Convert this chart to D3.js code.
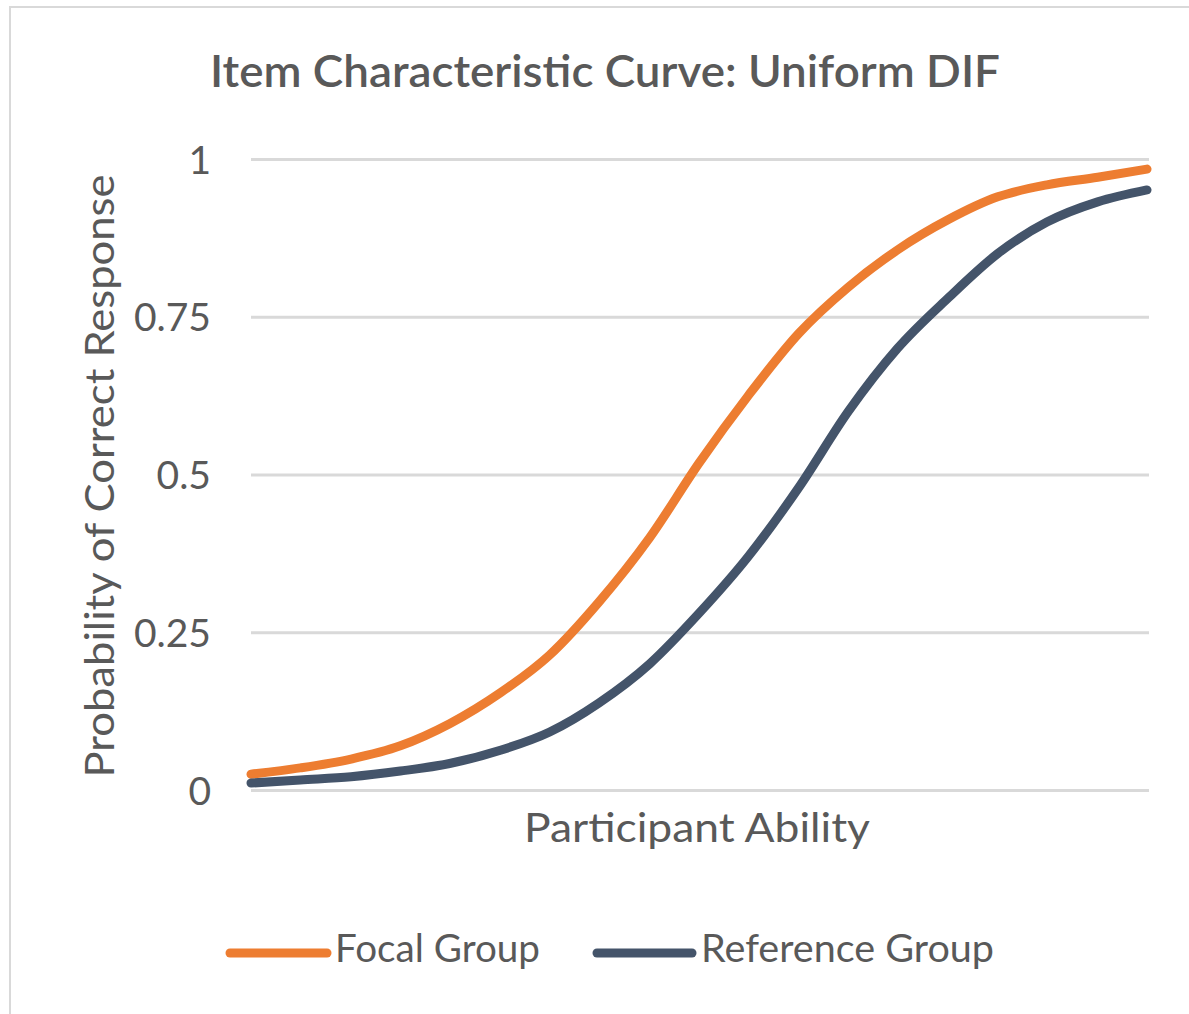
<!DOCTYPE html>
<html lang="en">
<head>
    <meta charset="UTF-8">
    <title>Item Characteristic Curve: Uniform DIF</title>
    <script src="https://cdn.jsdelivr.net/npm/d3@7"></script>
    <style>
        body { margin: 0; background: #fff; }
        text { font-family: Lato, "Open Sans", sans-serif; fill: #595959; }
    </style>
</head>
<body>
<script>
    // ability points (x, no labels shown on the axis)
    var ability = [-3, -2.67, -2.33, -2, -1.67, -1.33, -1, -0.67, -0.33, 0,
                   0.33, 0.67, 1, 1.33, 1.67, 2, 2.33, 2.67, 3];
    // probability of correct response
    var focal = [0.025, 0.035, 0.049, 0.070, 0.105, 0.154, 0.214, 0.298, 0.40, 0.518,
                 0.625, 0.724, 0.797, 0.856, 0.904, 0.94, 0.959, 0.971, 0.984];
    var reference = [0.011, 0.016, 0.021, 0.030, 0.042, 0.063, 0.092, 0.138, 0.20, 0.28,
                     0.37, 0.48, 0.60, 0.70, 0.78, 0.85, 0.90, 0.932, 0.951];
    var yTicks = [0, 0.25, 0.5, 0.75, 1];
    var seriesNames = ["Focal Group", "Reference Group"];
    var seriesColors = ["#ED7D31", "#44546A"];

    var W = 1189, H = 1014;
    var svg = d3.select("body").append("svg")
        .attr("width", W)
        .attr("height", H);

    // chart frame
    svg.append("rect")
        .attr("x", 10).attr("y", 7)
        .attr("width", W + 20).attr("height", H + 20)
        .attr("fill", "#fff")
        .attr("stroke", "#d9d9d9")
        .attr("stroke-width", 2);

    var plot = {left: 251, right: 1149, top: 159, bottom: 790};

    var x = d3.scaleLinear()
        .domain([ability[0], ability[ability.length - 1]])
        .range([plot.left, 1147]);
    var y = d3.scaleLinear()
        .domain([0, 1])
        .range([plot.bottom, plot.top]);

    // gridlines + y labels
    var axisY = d3.axisLeft(y)
        .tickValues(yTicks)
        .tickSize(-(plot.right - plot.left))
        .tickPadding(40)
        .tickFormat(d3.format(""));
    var gy = svg.append("g")
        .attr("transform", "translate(" + plot.left + ",0)")
        .call(axisY);
    gy.select(".domain").remove();
    gy.selectAll(".tick line").attr("stroke", "#d9d9d9").attr("stroke-width", 3);
    gy.selectAll(".tick text")
        .attr("font-size", "39px")
        .attr("font-family", "Lato, sans-serif")
        .attr("fill", "#595959")
        .attr("dy", "0.36em");

    // curves
    var line = d3.line()
        .x(function (d, i) { return x(ability[i]); })
        .y(function (d) { return y(d); })
        .curve(d3.curveMonotoneX);

    [focal, reference].forEach(function (s, k) {
        svg.append("path")
            .datum(s)
            .attr("d", line)
            .attr("fill", "none")
            .attr("stroke", seriesColors[k])
            .attr("stroke-width", 9)
            .attr("stroke-linecap", "round")
            .attr("stroke-linejoin", "round");
    });

    // title
    svg.append("text")
        .attr("x", 605).attr("y", 87)
        .attr("text-anchor", "middle")
        .attr("font-size", "44px")
        .attr("font-weight", 600)
        .attr("textLength", 790)
        .attr("lengthAdjust", "spacingAndGlyphs")
        .text("Item Characteristic Curve: Uniform DIF");

    // axis titles
    svg.append("text")
        .attr("transform", "translate(114,476) rotate(-90)")
        .attr("text-anchor", "middle")
        .attr("font-size", "40px")
        .attr("textLength", 603)
        .attr("lengthAdjust", "spacingAndGlyphs")
        .text("Probability of Correct Response");

    svg.append("text")
        .attr("x", 697).attr("y", 842)
        .attr("text-anchor", "middle")
        .attr("font-size", "40px")
        .attr("textLength", 346)
        .attr("lengthAdjust", "spacingAndGlyphs")
        .text("Participant Ability");

    // legend
    var legendPos = [{x1: 230, x2: 327, tx: 335, tw: 205},
                     {x1: 597, x2: 692, tx: 701, tw: 293}];
    seriesNames.forEach(function (name, k) {
        var p = legendPos[k];
        svg.append("line")
            .attr("x1", p.x1).attr("x2", p.x2)
            .attr("y1", 953).attr("y2", 953)
            .attr("stroke", seriesColors[k])
            .attr("stroke-width", 9)
            .attr("stroke-linecap", "round");
        svg.append("text")
            .attr("x", p.tx).attr("y", 962)
            .attr("font-size", "39px")
            .attr("textLength", p.tw)
            .attr("lengthAdjust", "spacingAndGlyphs")
            .text(name);
    });
</script>
</body>
</html>
